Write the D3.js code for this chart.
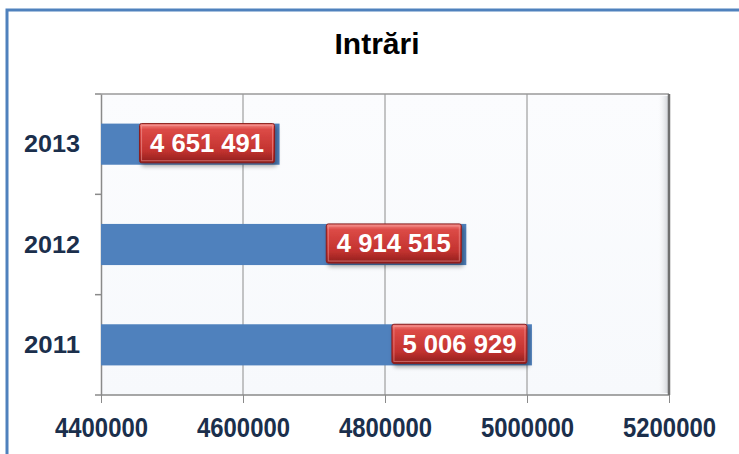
<!DOCTYPE html>
<html>
<head>
<meta charset="utf-8">
<script src="https://cdn.jsdelivr.net/npm/d3@7"></script>
<style>
  body { margin: 0; background: #fff; }
  svg { display: block; font-family: "Liberation Sans", Arial, sans-serif; }
</style>
</head>
<body>
<div id="chart"></div>
<script>
// data
const years = ["2013", "2012", "2011"];
const intrari = [4651491, 4914515, 5006929];
const xTicks = [4400000, 4600000, 4800000, 5000000, 5200000];
const title = "Intrări";

const width = 739, height = 454;
const plot = {left: 101, right: 669, top: 94, bottom: 395};

const svg = d3.select("#chart").append("svg")
    .attr("width", width)
    .attr("height", height);

const defs = svg.append("defs");

let bg = defs.append("linearGradient").attr("id", "bg")
    .attr("x1", 0).attr("y1", 0).attr("x2", 0).attr("y2", 1);
bg.append("stop").attr("offset", "0%").attr("stop-color", "#fbfcfe");
bg.append("stop").attr("offset", "100%").attr("stop-color", "#f7f9fc");

let edge = defs.append("linearGradient").attr("id", "edge")
    .attr("x1", 0).attr("y1", 0).attr("x2", 1).attr("y2", 0);
edge.append("stop").attr("offset", "0%").attr("stop-color", "#ffffff").attr("stop-opacity", 0);
edge.append("stop").attr("offset", "100%").attr("stop-color", "#c8cbd0").attr("stop-opacity", 1);

let red = defs.append("linearGradient").attr("id", "red")
    .attr("x1", 0).attr("y1", 0).attr("x2", 0).attr("y2", 1);
red.append("stop").attr("offset", "0%").attr("stop-color", "#f58a86");
red.append("stop").attr("offset", "15%").attr("stop-color", "#dc4a46");
red.append("stop").attr("offset", "70%").attr("stop-color", "#c2322f");
red.append("stop").attr("offset", "100%").attr("stop-color", "#8f1f1d");

let shadow = defs.append("filter").attr("id", "shadow")
    .attr("x", "-10%").attr("y", "-20%").attr("width", "130%").attr("height", "160%");
shadow.append("feDropShadow").attr("dx", 2).attr("dy", 3)
    .attr("stdDeviation", 2).attr("flood-color", "#000").attr("flood-opacity", 0.35);

// frame of the chart object (cut off at right / bottom)
svg.append("rect")
    .attr("x", 7).attr("y", 10)
    .attr("width", 800).attr("height", 600)
    .attr("fill", "#fff")
    .attr("stroke", "#4f81bd")
    .attr("stroke-width", 3);

svg.append("text")
    .attr("x", 377).attr("y", 54)
    .attr("text-anchor", "middle")
    .attr("font-size", 30).attr("font-weight", "bold")
    .attr("fill", "#000")
    .text(title);

const x = d3.scaleLinear()
    .domain([xTicks[0], xTicks[xTicks.length - 1]])
    .range([plot.left, plot.right]);

const y = d3.scaleBand()
    .domain(years)
    .range([plot.top, plot.bottom])
    .paddingInner(0.59)
    .paddingOuter(0.295);

// plot area
svg.append("rect")
    .attr("x", plot.left).attr("y", plot.top)
    .attr("width", plot.right - plot.left).attr("height", plot.bottom - plot.top)
    .attr("fill", "url(#bg)");
svg.append("rect")
    .attr("x", plot.right - 12).attr("y", plot.top + 2)
    .attr("width", 12).attr("height", plot.bottom - plot.top - 4)
    .attr("fill", "url(#edge)");

// grid lines
svg.append("g").selectAll("line")
    .data(xTicks.slice(1, -1))
    .join("line")
    .attr("x1", d => x(d)).attr("x2", d => x(d))
    .attr("y1", plot.top).attr("y2", plot.bottom)
    .attr("stroke", "#8c8c8c").attr("stroke-width", 1);

// borders
svg.append("line").attr("x1", plot.left).attr("x2", plot.right)
    .attr("y1", plot.top).attr("y2", plot.top)
    .attr("stroke", "#9a9a9a").attr("stroke-width", 1.5);
svg.append("line").attr("x1", plot.left).attr("x2", plot.right)
    .attr("y1", plot.bottom).attr("y2", plot.bottom)
    .attr("stroke", "#8a8a8a").attr("stroke-width", 1.5);
svg.append("line").attr("x1", plot.right).attr("x2", plot.right)
    .attr("y1", plot.top).attr("y2", plot.bottom)
    .attr("stroke", "#707070").attr("stroke-width", 2.5);

// x axis
const xAxis = svg.append("g")
    .attr("transform", `translate(0,${plot.bottom})`)
    .call(d3.axisBottom(x).tickValues(xTicks).tickSize(8).tickFormat(d3.format("d")));
xAxis.select(".domain").remove();
xAxis.selectAll(".tick line").attr("stroke", "#8a8a8a");
xAxis.selectAll(".tick text")
    .attr("y", 42).attr("dy", 0)
    .attr("font-size", 27).attr("font-weight", "bold")
    .attr("font-family", "Liberation Sans, Arial, sans-serif")
    .attr("fill", "#1b2f4c")
    .attr("textLength", 93).attr("lengthAdjust", "spacingAndGlyphs");

// y axis
const yAxis = svg.append("g")
    .attr("transform", `translate(${plot.left},0)`)
    .call(d3.axisLeft(y).tickSize(0).tickPadding(21));
yAxis.select(".domain").attr("stroke", "#8a8a8a").attr("stroke-width", 1.5);
yAxis.selectAll(".tick text")
    .attr("font-size", 23).attr("font-weight", "bold")
    .attr("font-family", "Liberation Sans, Arial, sans-serif")
    .attr("fill", "#1b2f4c")
    .attr("dy", "0.36em")
    .attr("textLength", 56).attr("lengthAdjust", "spacingAndGlyphs");

// category boundary ticks
svg.append("g").selectAll("line")
    .data(d3.range(years.length + 1))
    .join("line")
    .attr("x1", plot.left - 6).attr("x2", plot.left)
    .attr("y1", i => plot.top + i * y.step())
    .attr("y2", i => plot.top + i * y.step())
    .attr("stroke", "#8a8a8a").attr("stroke-width", 1.5);

// bars
svg.append("g").selectAll("rect")
    .data(years)
    .join("rect")
    .attr("x", x(xTicks[0]))
    .attr("y", d => y(d))
    .attr("width", (d, i) => x(intrari[i]) - x(xTicks[0]))
    .attr("height", y.bandwidth())
    .attr("fill", "#4f81bd");

// data labels
const fmt = v => d3.format(",")(v).replace(/,/g, " ");
const boxW = 135, boxH = y.bandwidth() - 2;
const lab = svg.append("g").selectAll("g")
    .data(years)
    .join("g")
    .attr("transform", (d, i) => `translate(${x(intrari[i]) - 5 - boxW},${y(d)})`);
lab.append("rect")
    .attr("width", boxW).attr("height", boxH)
    .attr("rx", 2)
    .attr("fill", "url(#red)")
    .attr("stroke", "#8a1d1b").attr("stroke-width", 1)
    .attr("filter", "url(#shadow)");
lab.append("rect")
    .attr("x", 2).attr("y", 2)
    .attr("width", boxW - 4).attr("height", boxH - 4)
    .attr("fill", "none")
    .attr("stroke", "#f5a3a0").attr("stroke-opacity", 0.55).attr("stroke-width", 1);
lab.append("text")
    .attr("x", boxW / 2).attr("y", boxH / 2)
    .attr("dy", "0.36em")
    .attr("text-anchor", "middle")
    .attr("font-size", 25).attr("font-weight", "bold")
    .attr("fill", "#fff")
    .attr("textLength", 114).attr("lengthAdjust", "spacingAndGlyphs")
    .text((d, i) => fmt(intrari[i]));
</script>
</body>
</html>
